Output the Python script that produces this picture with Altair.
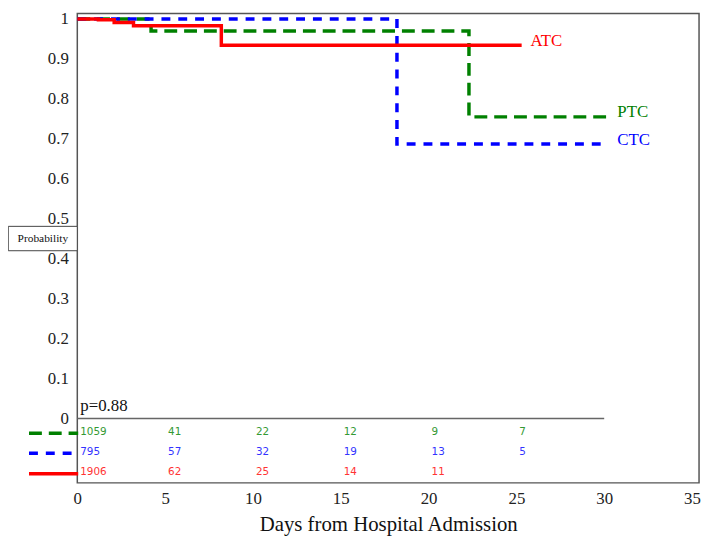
import altair as alt
import pandas as pd

# ---- data ----
groups = ["PTC", "CTC", "ATC"]
line_colors = ["#008000", "#0000ff", "#ff0000"]
text_colors = ["#339933", "#3333ff", "#ff3333"]
dashes = [[13, 7], [9, 8], [1, 0]]

ptc_t = [0, 4.2, 22.3, 30.2]
ptc_s = [1.0, 0.97, 0.755, 0.755]
ctc_t = [0, 18.2, 29.8]
ctc_s = [1.0, 0.687, 0.687]
atc_t = [0, 1.2, 2.1, 3.2, 8.2, 25.3]
atc_s = [1.0, 0.998, 0.991, 0.983, 0.934, 0.934]

risk_times = [0, 5, 10, 15, 20, 25]
ptc_risk = [1059, 41, 22, 12, 9, 7]
ctc_risk = [795, 57, 32, 19, 13, 5]
atc_risk = [1906, 62, 25, 14, 11]

x_ticks = [0, 5, 10, 15, 20, 25, 30, 35]
y_ticks = [0, 0.1, 0.2, 0.3, 0.4, 0.5, 0.6, 0.7, 0.8, 0.9, 1.0]
p_label = "p=0.88"

# ---- tables ----
curves = pd.concat([
    pd.DataFrame({"t": ptc_t, "s": ptc_s, "g": "PTC"}),
    pd.DataFrame({"t": ctc_t, "s": ctc_s, "g": "CTC"}),
    pd.DataFrame({"t": atc_t, "s": atc_s, "g": "ATC"}),
])

row_y = {"PTC": -0.034, "CTC": -0.084, "ATC": -0.135}
risk_lists = {"PTC": ptc_risk, "CTC": ctc_risk, "ATC": atc_risk}

SERIF = "Liberation Serif"

xs = alt.Scale(domain=[0, 35.4], nice=False, zero=False)
ys = alt.Scale(domain=[-0.161, 1.0134], nice=False, zero=False)
xaxis = alt.Axis(values=x_ticks, domain=False, ticks=False, grid=False,
                 labelFlush=False, labelOverlap=False,
                 labelPadding=8, titlePadding=7, titleFontSize=21,
                 titleFont=SERIF, titleFontWeight="normal", titleColor="#111",
                 labelFont=SERIF, labelFontSize=17, labelColor="#222")
yaxis = alt.Axis(values=y_ticks, domain=False, ticks=False, grid=False,
                 labelFlush=False, labelOverlap=False,
                 labelPadding=9, format="~g",
                 labelFont=SERIF, labelFontSize=17, labelColor="#222")

XT = "Days from Hospital Admission"


def X(field, **kw):
    return alt.X(field, type="quantitative", scale=xs, axis=xaxis, title=XT, **kw)


def Y(field, **kw):
    return alt.Y(field, type="quantitative", scale=ys, axis=yaxis, title=None, **kw)


color_scale = alt.Scale(domain=groups, range=line_colors)
dash_scale = alt.Scale(domain=groups, range=dashes)

lines = alt.Chart(curves).mark_line(interpolate="step-after", strokeWidth=3.5,
                                    strokeCap="butt").encode(
    x=X("t"), y=Y("s"),
    color=alt.Color("g:N", scale=color_scale, legend=None),
    strokeDash=alt.StrokeDash("g:N", scale=dash_scale, legend=None),
    detail="g:N",
)

layers = []

# zero line of the plot (ends at 30 days)
zero_df = pd.DataFrame({"x": [0], "x2": [30], "y": [0]})
layers.append(alt.Chart(zero_df).mark_rule(color="#666", strokeWidth=1.5).encode(
    x=X("x"), x2="x2", y=Y("y")))

# y-axis label box
box_df = pd.DataFrame({"x": [-3.93], "x2": [0], "y": [0.42], "y2": [0.481]})
layers.append(alt.Chart(box_df).mark_rect(fill="white", stroke="#444",
                                          strokeWidth=1, clip=False).encode(
    x=X("x"), x2="x2", y=Y("y"), y2="y2"))
lab_df = pd.DataFrame({"x": [-1.96], "y": [0.4505], "label": ["Probability"]})
layers.append(alt.Chart(lab_df).mark_text(font=SERIF, fontSize=11.5,
                                          color="#111", clip=False).encode(
    x=X("x"), y=Y("y"), text="label:N"))

layers.append(lines)

# curve end labels
end_df = pd.DataFrame({"x": [25.8, 30.75, 30.75], "y": [0.945, 0.767, 0.697],
                       "g": ["ATC", "PTC", "CTC"]})
for g, c in zip(groups, line_colors):
    layers.append(alt.Chart(end_df).transform_filter(alt.datum.g == g).mark_text(
        font=SERIF, fontSize=17, align="left", baseline="middle",
        color=c).encode(x=X("x"), y=Y("y"), text="g:N"))

# p-value
p_df = pd.DataFrame({"x": [0], "y": [0.032], "label": [p_label]})
layers.append(alt.Chart(p_df).mark_text(font=SERIF, fontSize=17,
                                        align="left", baseline="middle", dx=3,
                                        color="#111").encode(
    x=X("x"), y=Y("y"), text="label:N"))

# number-at-risk table and its line-style key
for g, lc, tc, d in zip(groups, line_colors, text_colors, dashes):
    vals = risk_lists[g]
    rdf = pd.DataFrame({"t": risk_times[:len(vals)], "n": vals, "y": row_y[g]})
    layers.append(alt.Chart(rdf).mark_text(font="DejaVu Sans", fontSize=10.5,
                                           align="left", baseline="middle", dx=3,
                                           color=tc).encode(
        x=X("t"), y=Y("y"), text="n:Q"))
    kdf = pd.DataFrame({"x": [-2.75], "x2": [0.05], "y": [row_y[g] - 0.003]})
    layers.append(alt.Chart(kdf).mark_rule(color=lc, strokeWidth=3.5,
                                           strokeDash=d, clip=False).encode(
        x=X("x"), x2="x2", y=Y("y")))

chart = alt.layer(*layers).properties(
    width=628, height=474,
    padding={"left": 70, "top": 3, "right": 4, "bottom": 52},
    autosize=alt.AutoSizeParams(type="none"),
).configure(
    style={"guide-label": {"font": SERIF, "fontSize": 17}},
).configure_view(stroke="#555", strokeWidth=1.5).configure_axis(
    labelFont=SERIF, labelFontSize=17, labelColor="#222",
)

chart.save("out.html", embed_options={"renderer": "svg", "actions": False})
